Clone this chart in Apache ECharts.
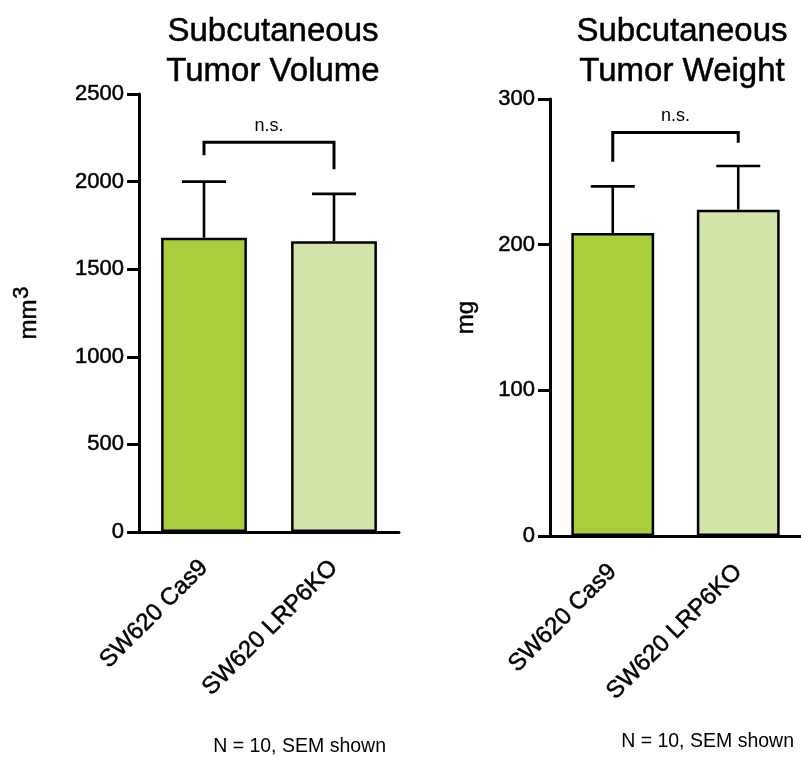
<!DOCTYPE html>
<html>
<head>
<meta charset="utf-8">
<script src="https://cdn.jsdelivr.net/npm/echarts@6/dist/echarts.min.js"></script>
<style>
  html, body { margin: 0; padding: 0; background: #fff; }
  #chart { width: 801px; height: 757px; }
</style>
</head>
<body>
<div id="chart"></div>
<script>
// Groups compared in both panels
const groups = ['SW620 Cas9', 'SW620 LRP6KO'];

// Tumor volume (mm^3): group means and SEM
const volumeMean = [1680, 1660];
const volumeSem = [320, 270];

// Tumor weight (mg): group means and SEM
const weightMean = [208, 224];
const weightSem = [32, 30];

// Significance brackets: [left group, right group, bar height, left leg end, right leg end]
const volumeBracket = [[0, 1, 2225, 2150, 2070]];
const weightBracket = [[0, 1, 277, 257, 270]];
const bracketLabel = 'n.s.';

// Axis settings
const volumeAxis = { min: 0, max: 2500, interval: 500 };
const weightAxis = { min: 0, max: 300, interval: 100 };

const footnote = 'N = 10, SEM shown';
const barColors = ['#a8cf3b', '#d3e4aa'];

const FONT = 'Liberation Sans, Arial, Helvetica, sans-serif';
// slight outline so the text reads as heavy as Helvetica in print
const INK = { textBorderColor: '#000', textBorderWidth: 0.5 };

function barData(values) {
  return values.map((v, i) => ({
    value: v,
    itemStyle: { color: barColors[i], borderColor: '#000', borderWidth: 2.5 }
  }));
}

function errorData(means, sems) {
  return means.map((m, i) => [i, m, m + sems[i]]);
}

function renderError(params, api) {
  const base = api.coord([api.value(0), api.value(1)]);
  const top = api.coord([api.value(0), api.value(2)]);
  const half = 22;
  const style = { stroke: '#000', lineWidth: 2.6 };
  return {
    type: 'group',
    children: [
      { type: 'line', shape: { x1: base[0], y1: base[1], x2: top[0], y2: top[1] }, style },
      { type: 'line', shape: { x1: top[0] - half, y1: top[1], x2: top[0] + half, y2: top[1] }, style }
    ]
  };
}

function renderBracket(params, api) {
  const pTopL = api.coord([api.value(0), api.value(2)]);
  const pTopR = api.coord([api.value(1), api.value(2)]);
  const pEndL = api.coord([api.value(0), api.value(3)]);
  const pEndR = api.coord([api.value(1), api.value(4)]);
  return {
    type: 'group',
    children: [
      {
        type: 'polyline',
        shape: { points: [[pEndL[0], pEndL[1]], [pTopL[0], pTopL[1]], [pTopR[0], pTopR[1]], [pEndR[0], pEndR[1]]] },
        style: { stroke: '#000', lineWidth: 3, fill: null }
      },
      {
        type: 'text',
        style: {
          text: bracketLabel,
          x: (pTopL[0] + pTopR[0]) / 2,
          y: pTopL[1] - 7,
          align: 'center',
          verticalAlign: 'bottom',
          fontSize: 18,
          fontFamily: FONT,
          fill: '#000'
        }
      }
    ]
  };
}

function xAxisFor(gridIndex) {
  return {
    type: 'category',
    gridIndex,
    data: groups,
    axisLine: { lineStyle: { color: '#000', width: 3 } },
    axisTick: { alignWithLabel: true, length: 9, lineStyle: { color: '#000', width: 3 } },
    axisLabel: Object.assign({ rotate: 45, margin: 32, fontSize: 24, fontFamily: FONT, color: '#000', interval: 0 }, INK),
    splitLine: { show: false }
  };
}

function yAxisFor(gridIndex, cfg, name, nameGap) {
  return {
    type: 'value',
    gridIndex,
    min: cfg.min,
    max: cfg.max,
    interval: cfg.interval,
    name,
    nameLocation: 'middle',
    nameGap,
    nameRotate: 90,
    nameTextStyle: Object.assign({
      fontSize: 24, fontFamily: FONT, color: '#000',
      rich: {
        base: Object.assign({ fontSize: 24, fontFamily: FONT, color: '#000' }, INK),
        sup: Object.assign({ fontSize: 22, fontFamily: FONT, color: '#000', verticalAlign: 'top', padding: [0, 0, 14, 1] }, INK)
      }
    }, INK),
    axisLine: { show: true, lineStyle: { color: '#000', width: 3 } },
    axisTick: { show: true, length: 12, lineStyle: { color: '#000', width: 3 } },
    axisLabel: Object.assign({ margin: 15, fontSize: 22, fontFamily: FONT, color: '#000', formatter: v => String(v) }, INK),
    splitLine: { show: false }
  };
}

const titleStyle = Object.assign({ fontSize: 33, fontWeight: 'normal', fontFamily: FONT, color: '#000', lineHeight: 40 }, INK);

const chart = echarts.init(document.getElementById('chart'), null, { renderer: 'canvas' });

chart.setOption({
  backgroundColor: '#fff',
  animation: false,
  title: [
    { text: 'Subcutaneous\nTumor Volume', left: 268, top: 7, textAlign: 'center', textStyle: titleStyle },
    { text: 'Subcutaneous\nTumor Weight', left: 677, top: 7, textAlign: 'center', textStyle: titleStyle }
  ],
  grid: [
    { left: 139, top: 94, width: 260, height: 438 },
    { left: 550, top: 99, width: 256, height: 437 }
  ],
  xAxis: [xAxisFor(0), xAxisFor(1)],
  yAxis: [
    yAxisFor(0, volumeAxis, '{base|mm}{sup|3}', 92),
    yAxisFor(1, weightAxis, 'mg', 72)
  ],
  series: [
    { type: 'bar', xAxisIndex: 0, yAxisIndex: 0, barWidth: '66%', data: barData(volumeMean), z: 2 },
    { type: 'custom', xAxisIndex: 0, yAxisIndex: 0, renderItem: renderError, data: errorData(volumeMean, volumeSem), z: 3 },
    { type: 'custom', xAxisIndex: 0, yAxisIndex: 0, renderItem: renderBracket, data: volumeBracket, clip: false, z: 3 },
    { type: 'bar', xAxisIndex: 1, yAxisIndex: 1, barWidth: '66%', data: barData(weightMean), z: 2 },
    { type: 'custom', xAxisIndex: 1, yAxisIndex: 1, renderItem: renderError, data: errorData(weightMean, weightSem), z: 3 },
    { type: 'custom', xAxisIndex: 1, yAxisIndex: 1, renderItem: renderBracket, data: weightBracket, clip: false, z: 3 }
  ],
  graphic: [
    { type: 'text', right: 801 - 386, top: 737, style: { text: footnote, fontSize: 19.5, fontFamily: FONT, fill: '#000' } },
    { type: 'text', right: 801 - 794, top: 732, style: { text: footnote, fontSize: 19.5, fontFamily: FONT, fill: '#000' } }
  ]
});
</script>
</body>
</html>
